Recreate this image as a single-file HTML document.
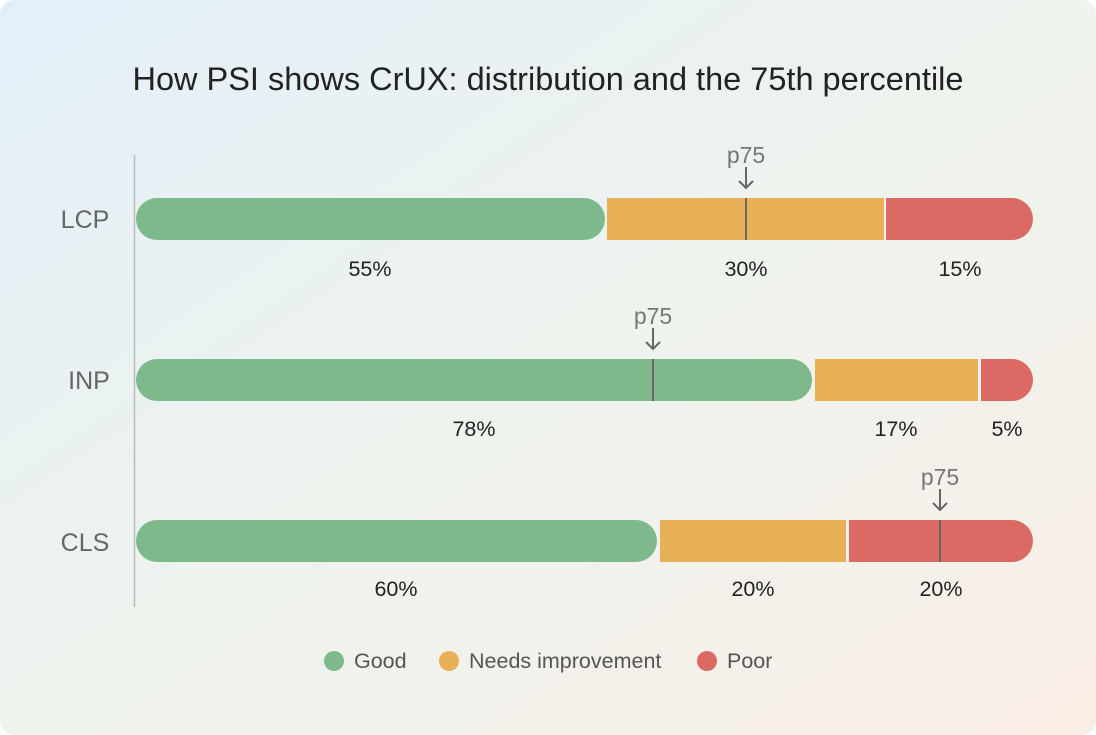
<!DOCTYPE html>
<html><head><meta charset="utf-8"><style>
html,body{margin:0;padding:0;width:1096px;height:735px;overflow:hidden;background:#fff}
</style></head><body>
<svg width="1096" height="735" xmlns="http://www.w3.org/2000/svg" font-family="Liberation Sans, sans-serif">
<defs>
<linearGradient id="bg" x1="0" y1="0" x2="1" y2="1">
<stop offset="0" stop-color="#e3eff8"/><stop offset="0.5" stop-color="#eef3ee"/><stop offset="1" stop-color="#f9eee6"/>
</linearGradient>
</defs>
<rect x="0" y="0" width="1096" height="735" rx="14" fill="url(#bg)"/>
<text x="548" y="90" text-anchor="middle" font-size="32.5" fill="#222">How PSI shows CrUX: distribution and the 75th percentile</text>
<line x1="134.5" y1="155" x2="134.5" y2="607" stroke="#bbb" stroke-width="1.5"/>
<g font-size="25" fill="#666" text-anchor="middle">
<text x="85" y="228">LCP</text><text x="89" y="389">INP</text><text x="85" y="551">CLS</text>
</g>
<rect x="607" y="198" width="277" height="42" fill="#e8b157"/>
<path d="M886 198 H1012 A21 21 0 0 1 1012 240 H886 Z" fill="#dc6a64"/>
<rect x="136" y="198" width="469" height="42" rx="21" fill="#7db98b"/>
<rect x="815" y="359" width="163" height="42" fill="#e8b157"/>
<path d="M981 359 H1012 A21 21 0 0 1 1012 401 H981 Z" fill="#dc6a64"/>
<rect x="136" y="359" width="676" height="42" rx="21" fill="#7db98b"/>
<rect x="660" y="520" width="186" height="42" fill="#e8b157"/>
<path d="M849 520 H1012 A21 21 0 0 1 1012 562 H849 Z" fill="#dc6a64"/>
<rect x="136" y="520" width="521" height="42" rx="21" fill="#7db98b"/>
<g stroke="#666" stroke-width="2" fill="none">
<line x1="746" y1="198" x2="746" y2="240"/><path d="M746 167 V188 M739 181 L746 188 L753 181"/>
<line x1="653" y1="359" x2="653" y2="401"/><path d="M653 328 V349 M646 342 L653 349 L660 342"/>
<line x1="940" y1="520" x2="940" y2="562"/><path d="M940 489 V510 M933 503 L940 510 L947 503"/>
</g>
<g font-size="23" fill="#777" text-anchor="middle">
<text x="746" y="163">p75</text><text x="653" y="324">p75</text><text x="940" y="485">p75</text>
</g>
<g font-size="21.5" fill="#222" text-anchor="middle">
<text x="370" y="276">55%</text><text x="746" y="276">30%</text><text x="960" y="276">15%</text>
<text x="474" y="436">78%</text><text x="896" y="436">17%</text><text x="1007" y="436">5%</text>
<text x="396" y="596">60%</text><text x="753" y="596">20%</text><text x="941" y="596">20%</text>
</g>
<circle cx="334" cy="661" r="10" fill="#7db98b"/><text x="354" y="668" font-size="21.5" fill="#555">Good</text>
<circle cx="449" cy="661" r="10" fill="#e8b157"/><text x="469" y="668" font-size="21.5" fill="#555">Needs improvement</text>
<circle cx="707" cy="661" r="10" fill="#dc6a64"/><text x="727" y="668" font-size="21.5" fill="#555">Poor</text>
</svg>
</body></html>
